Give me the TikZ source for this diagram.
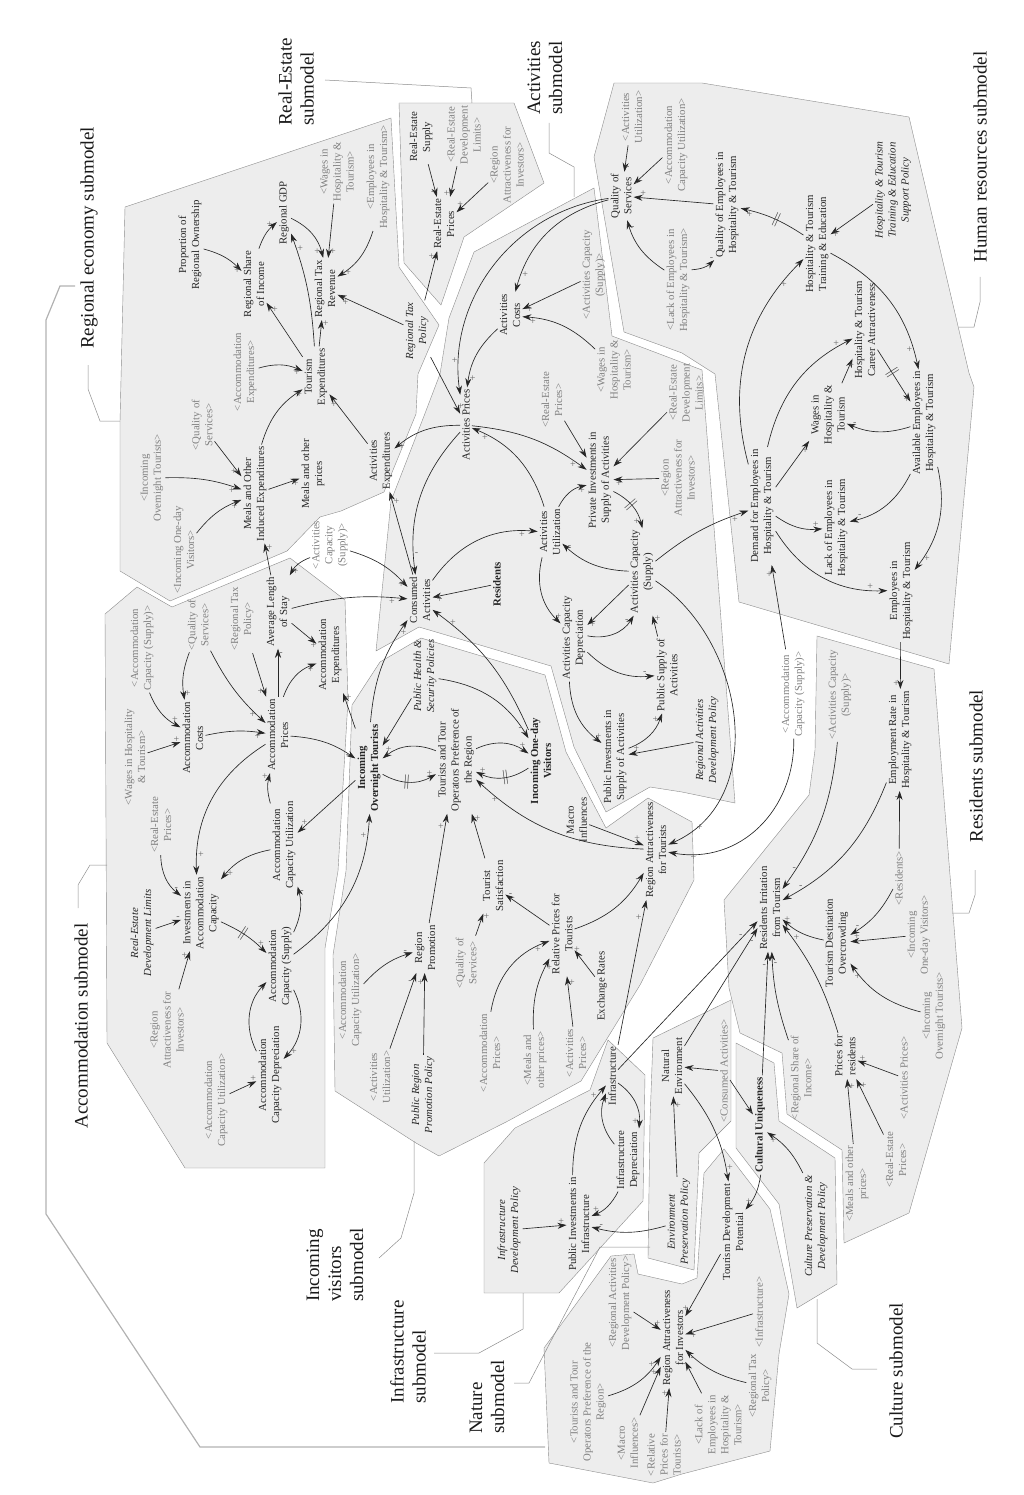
\documentclass[tikz,border=0pt]{standalone}
\usepackage{fontspec}
\setmainfont{Liberation Serif}
\usetikzlibrary{arrows.meta}

\tikzset{
  var/.style={font=\fontsize{10.8}{13}\selectfont, align=center, rotate=90, inner sep=2pt, text=black!85},
  bvar/.style={var, font=\fontsize{10.8}{13}\selectfont\bfseries},
  pvar/.style={var, font=\fontsize{10.8}{13}\selectfont\itshape},
  svar/.style={var, text=black!50},
  subm/.style={font=\fontsize{19}{22}\selectfont, align=left, rotate=90, inner sep=0pt, text=black!90},
  arr/.style={-{Stealth[length=9pt,width=6pt]}, draw=black!85, line width=0.65pt},
  pol/.style={font=\fontsize{10}{10}\selectfont, text=black!60, inner sep=1pt, pos=.88},
  dly/.style={sloped, pos=.45, inner sep=0pt, font=\fontsize{15}{15}\selectfont, text=black!80},
  zone/.style={fill=black!7, draw=black!45, line width=0.4pt},
  leadline/.style={draw=black!45, line width=0.5pt},
  bigframe/.style={draw=black!30, line width=1.2pt},
}

\begin{document}
\begin{tikzpicture}[x=1pt,y=1pt]
\useasboundingbox (0,0) rectangle (1023,-1495);

% submodel zones
\filldraw[zone] (125,-207) -- (391,-118) -- (399,-267) -- (439,-325) -- (418,-374) -- (416,-414) -- (384,-492) -- (341,-511) -- (320,-517) -- (287,-551) -- (170,-601) -- (120,-571) -- (120,-422) -- cycle; % regional economy
\filldraw[zone] (399,-103) -- (514,-103) -- (544,-183) -- (464,-237) -- (441,-305) -- (404,-263) -- cycle; % real-estate
\filldraw[zone] (474,-252) -- (594,-188) -- (612,-336) -- (702,-370) -- (735,-803) -- (682,-792) -- (650,-787) -- (606,-812) -- (574,-747) -- (551,-666) -- (419,-627) -- (376,-651) -- (391,-501) -- (424,-416) -- (440,-374) -- (449,-318) -- cycle; % activities
\filldraw[zone] (614,-83) -- (702,-83) -- (909,-117) -- (969,-373) -- (974,-387) -- (949,-664) -- (739,-602) -- (715,-374) -- (682,-353) -- (624,-332) -- (594,-157) -- cycle; % human resources
\filldraw[zone] (817,-636) -- (934,-669) -- (940,-748) -- (962,-1028) -- (909,-1213) -- (844,-1243) -- (842,-1150) -- (787,-1114) -- (782,-1053) -- (740,-1033) -- (729,-988) -- (724,-900) -- (809,-795) -- (815,-750) -- cycle; % residents
\filldraw[zone] (105,-614) -- (137,-587) -- (172,-607) -- (290,-558) -- (345,-600) -- (348,-700) -- (338,-871) -- (325,-948) -- (325,-1168) -- (185,-1168) -- (107,-1043) -- cycle; % accommodation
\filldraw[zone] (352,-705) -- (380,-662) -- (421,-638) -- (545,-675) -- (566,-752) -- (606,-828) -- (648,-798) -- (692,-822) -- (694,-880) -- (640,-985) -- (581,-1081) -- (508,-1121) -- (439,-1156) -- (416,-1143) -- (335,-1091) -- (333,-955) -- (346,-871) -- cycle; % incoming visitors
\filldraw[zone] (484,-1163) -- (484,-1293) -- (559,-1293) -- (643,-1201) -- (645,-1075) -- (608,-1040) -- (590,-1090) -- (515,-1128) -- cycle; % infrastructure
\filldraw[zone] (653,-1038) -- (731,-1000) -- (731,-1121) -- (699,-1153) -- (694,-1270) -- (648,-1258) -- (650,-1121) -- cycle; % nature
\filldraw[zone] (736,-1043) -- (774,-1063) -- (779,-1121) -- (835,-1158) -- (837,-1284) -- (797,-1308) -- (779,-1204) -- (736,-1148) -- cycle; % culture
\filldraw[zone] (611,-1256) -- (634,-1254) -- (638,-1274) -- (682,-1284) -- (697,-1278) -- (704,-1173) -- (724,-1149) -- (770,-1209) -- (789,-1294) -- (779,-1354) -- (770,-1451) -- (682,-1474) -- (653,-1483) -- (549,-1463) -- (544,-1348) -- cycle; % investors

% frame and leaders
\draw[bigframe] (75,-286) -- (60,-286) -- (46,-320) -- (46,-1214) -- (200,-1447) -- (545,-1447);
\draw[leadline] (88,-365) -- (88,-389) -- (100,-421) -- (120,-421);
\draw[leadline] (325,-80) -- (471,-88) -- (472,-103);
\draw[leadline] (549,-123) -- (549,-153) -- (574,-167) -- (574,-197);
\draw[leadline] (980,-277) -- (980,-302) -- (974,-327) -- (959,-327);
\draw[leadline] (975,-870) -- (975,-895) -- (969,-913) -- (952,-913);
\draw[leadline] (877,-1369) -- (852,-1369) -- (817,-1343) -- (817,-1299);
\draw[leadline] (379,-1258) -- (401,-1238) -- (414,-1193) -- (414,-1141);
\draw[leadline] (434,-1353) -- (479,-1353) -- (523,-1329) -- (523,-1293);
\draw[leadline] (514,-1383) -- (529,-1383) -- (600,-1247) -- (650,-1247);
\draw[leadline] (107,-865) -- (90,-865) -- (78,-885) -- (78,-908);

% submodel names
\node[subm] (treg) at (89,-238) {Regional economy submodel};
\node[subm] (trest) at (296,-82) {Real-Estate\\submodel};
\node[subm] (tact) at (545,-78) {Activities\\submodel};
\node[subm] (thr) at (980,-157) {Human resources submodel};
\node[subm] (tacc) at (81,-1026) {Accommodation submodel};
\node[subm] (tres) at (976,-766) {Residents submodel};
\node[subm] (tinc) at (335,-1265) {Incoming\\visitors\\submodel};
\node[subm] (tinf) at (408,-1352) {Infrastructure\\submodel};
\node[subm] (tnat) at (487,-1397) {Nature\\submodel};
\node[subm] (tcul) at (896,-1371) {Culture submodel};

% regional economy
\node[var] (prop) at (190,-245) {Proportion of\\Regional Ownership};
\node[var] (rshare) at (254,-284) {Regional Share\\of Income};
\node[var] (rgdp) at (284,-213) {Regional GDP};
\node[var] (rtax) at (325,-289) {Regional Tax\\Revenue};
\node[svar] (wages1) at (337,-172) {<Wages in\\Hospitality \&\\Tourism>};
\node[svar] (empl1) at (378,-177) {<Employees in\\Hospitality \& Tourism>};
\node[svar] (accexp1) at (245,-372) {<Accommodation\\Expenditures>};
\node[var] (texp) at (316,-377) {Tourism\\Expenditures};
\node[pvar] (rtaxpol) at (417,-331) {Regional Tax\\Policy};
\node[svar] (inov1) at (152,-478) {<Incoming\\Overnight Tourists>};
\node[svar] (inod1) at (184,-550) {<Incoming One-day\\Visitors>};
\node[svar] (qos1) at (202,-425) {<Quality of\\Services>};
\node[var] (meals) at (255,-494) {Meals and Other\\Induced Expenditures};
\node[var] (mprice) at (313,-474) {Meals and other\\prices};
\node[var] (actexp) at (381,-461) {Activities\\Expenditures};

% real-estate
\node[var] (resupply) at (421,-137) {Real-Estate\\Supply};
\node[svar] (redevlim1) at (464,-135) {<Real-Estate\\Development\\Limits>};
\node[svar] (rainv1) at (507,-165) {<Region\\Attractiveness for\\Investors>};
\node[var] (reprice) at (444,-224) {Real-Estate\\Prices};

% activities
\node[var] (actcost) at (510,-315) {Activities\\Costs};
\node[svar] (actcap1) at (594,-275) {<Activities Capacity\\(Supply)>};
\node[svar] (wages2) at (614,-370) {<Wages in\\Hospitality \&\\Tourism>};
\node[var] (actprice) at (466,-425) {Activities Prices};
\node[svar] (reprice2) at (552,-400) {<Real-Estate\\Prices>};
\node[svar] (redevlim2) at (686,-393) {<Real-Estate\\Development\\Limits>};
\node[svar] (rainv2) at (678,-478) {<Region\\Attractiveness for\\Investors>};
\node[var] (pinvact) at (600,-480) {Private Investments in\\Supply of Activities};
\node[var] (actutil) at (550,-532) {Activities\\Utilization};
\node[var] (consact) at (420,-600) {Consumed\\Activities};
\node[bvar] (resid) at (497,-584) {Residents};
\node[var] (actcap) at (642,-572) {Activities Capacity\\(Supply)};
\node[var] (actdep) at (574,-638) {Activities Capacity\\Depreciation};
\node[var] (pubsup) at (667,-675) {Public Supply of\\Activities};
\node[var] (pubinvact) at (615,-757) {Public Investments in\\Supply of Activities};
\node[pvar] (radpol) at (707,-740) {Regional Activities\\Development Policy};

% human resources
\node[var] (qosv) at (621,-196) {Quality of\\Services};
\node[svar] (actutil2) at (632,-117) {<Activities\\Utilization>};
\node[svar] (accutil1) at (676,-145) {<Accommodation\\Capacity Utilization>};
\node[svar] (lack1) at (678,-280) {<Lack of Employees in\\Hospitality \& Tourism>};
\node[var] (qemp) at (727,-205) {Quality of Employees in\\Hospitality \& Tourism};
\node[var] (train) at (817,-244) {Hospitality \& Tourism\\Training \& Education};
\node[pvar] (trpol) at (893,-190) {Hospitality \& Tourism\\Training \& Education\\Support Policy};
\node[var] (career) at (865,-330) {Hospitality \& Tourism\\Career Attractiveness};
\node[var] (wagesv) at (828,-415) {Wages in\\Hospitality \&\\Tourism};
\node[var] (avail) at (924,-423) {Available Employees in\\Hospitality \& Tourism};
\node[var] (demand) at (762,-506) {Demand for Employees in\\Hospitality \& Tourism};
\node[var] (lack) at (836,-528) {Lack of Employees in\\Hospitality \& Tourism};
\node[var] (emp) at (901,-591) {Employees in\\Hospitality \& Tourism};

% accommodation
\node[svar] (wages3) at (135,-757) {<Wages in Hospitality\\\& Tourism>};
\node[svar] (acccap1) at (142,-648) {<Accommodation\\Capacity (Supply)>};
\node[svar] (qos2) at (198,-625) {<Quality of\\Services>};
\node[svar] (rtaxpol2) at (242,-619) {<Regional Tax\\Policy>};
\node[var] (avgstay) at (278,-612) {Average Length\\of Stay};
\node[svar] (actcap2) at (330,-545) {<Activities\\Capacity\\(Supply)>};
\node[var] (accexp) at (330,-655) {Accommodation\\Expenditures};
\node[var] (acccost) at (193,-738) {Accommodation\\Costs};
\node[var] (accprice) at (278,-735) {Accommodation\\Prices};
\node[svar] (reprice3) at (161,-825) {<Real-Estate\\Prices>};
\node[pvar] (redevpol) at (142,-933) {Real-Estate\\Development Limits};
\node[var] (accinv) at (201,-913) {Investments in\\Accommodation\\Capacity};
\node[svar] (rainv3) at (167,-1030) {<Region\\Attractiveness for\\Investors>};
\node[var] (accutil) at (284,-845) {Accommodation\\Capacity Utilization};
\node[var] (acccap) at (280,-966) {Accommodation\\Capacity (Supply)};
\node[var] (accdep) at (270,-1075) {Accommodation\\Capacity Depreciation};
\node[svar] (accutil2) at (216,-1100) {<Accommodation\\Capacity Utilization>};

% incoming visitors
\node[bvar] (inov) at (369,-768) {Incoming\\Overnight Tourists};
\node[pvar] (pubhealth) at (425,-676) {Public Health \&\\Security Policies};
\node[var] (pref) at (456,-760) {Tourists and Tour\\Operators Preference of\\the Region};
\node[bvar] (inod) at (541,-761) {Incoming One-day\\Visitors};
\node[var] (macro) at (577,-820) {Macro\\Influences};
\node[var] (ratour) at (656,-850) {Region Attractiveness\\for Tourists};
\node[var] (tsat) at (493,-886) {Tourist\\Satisfaction};
\node[var] (rprom) at (425,-948) {Region\\Promotion};
\node[svar] (accutil3) at (350,-1000) {<Accommodation\\Capacity Utilization>};
\node[svar] (actutil3) at (380,-1077) {<Activities\\Utilization>};
\node[pvar] (prompol) at (423,-1095) {Public Region\\Promotion Policy};
\node[svar] (qos3) at (466,-963) {<Quality of\\Services>};
\node[var] (relprice) at (562,-934) {Relative Prices for\\Tourists};
\node[svar] (accprice2) at (490,-1053) {<Accommodation\\Prices>};
\node[svar] (mprice2) at (535,-1060) {<Meals and\\other prices>};
\node[svar] (actprice2) at (576,-1053) {<Activities\\Prices>};
\node[var] (exrate) at (602,-986) {Exchange Rates};

% residents
\node[svar] (acccap3) at (793,-694) {<Accommodation\\Capacity (Supply)>};
\node[svar] (actcap3) at (840,-695) {<Activities Capacity\\(Supply)>};
\node[var] (emprate) at (900,-740) {Employment Rate in\\Hospitality \& Tourism};
\node[var] (irrit) at (770,-908) {Residents Irritation\\from Tourism};
\node[var] (overcrowd) at (837,-943) {Tourism Destination\\Overcrowding};
\node[svar] (resid2) at (899,-878) {<Residents>};
\node[svar] (inod2) at (919,-935) {<Incoming\\One-day Visitors>};
\node[svar] (inov2) at (934,-1016) {<Incoming\\Overnight Tourists>};
\node[var] (presid) at (845,-1056) {Prices for\\residents};
\node[svar] (rshare2) at (801,-1078) {<Regional Share of\\Income>};
\node[svar] (actprice3) at (904,-1078) {<Activities Prices>};
\node[svar] (mprice3) at (857,-1184) {<Meals and other\\prices>};
\node[svar] (reprice4) at (896,-1160) {<Real-Estate\\Prices>};

% culture, nature, infrastructure
\node[bvar] (cultu) at (760,-1125) {Cultural Uniqueness};
\node[pvar] (culpol) at (816,-1226) {Culture Preservation \&\\Development Policy};
\node[svar] (consact2) at (724,-1071) {<Consumed Activities>};
\node[var] (natenv) at (672,-1066) {Natural\\Environment};
\node[pvar] (envpol) at (679,-1222) {Environment\\Preservation Policy};
\node[var] (infra) at (612,-1076) {Infrastructure};
\node[var] (infdep) at (628,-1160) {Infrastructure\\Depreciation};
\node[var] (pubinvinf) at (579,-1224) {Public Investments in\\Infrastructure};
\node[pvar] (infpol) at (509,-1230) {Infrastructure\\Development Policy};

% investors
\node[var] (tdp) at (733,-1232) {Tourism Development\\Potential};
\node[var] (rainv) at (673,-1338) {Region Attractiveness\\for Investors};
\node[svar] (radpol2) at (620,-1303) {<Regional Activities\\Development Policy>};
\node[svar] (pref2) at (588,-1402) {<Tourists and Tour\\Operators Preference of the\\Region>};
\node[svar] (macro2) at (628,-1443) {<Macro\\Influences>};
\node[svar] (relprice2) at (664,-1455) {<Relative\\Prices for\\Tourists>};
\node[svar] (lack2) at (718,-1425) {<Lack of\\Employees in\\Hospitality \&\\Tourism>};
\node[svar] (infra2) at (759,-1312) {<Infrastructure>};
\node[svar] (rtaxpol3) at (760,-1386) {<Regional Tax\\Policy>};

% regional economy links
\draw[arr] (prop) to[bend left=15] node[pol,below]{+} (rshare);
\draw[arr] (rshare) to[bend left=15] node[pol,left]{+} (rgdp);
\draw[arr] (rgdp) to[bend left=25] node[pol,left]{+} (rtax);
\draw[arr] (texp) to[bend right=8] node[pol,right]{+} (rgdp);
\draw[arr] (texp) -- node[pol,right]{+} (rshare);
\draw[arr] (texp) -- node[pol,right]{+} (rtax);
\draw[arr] (wages1) -- node[pol,right]{+} (rtax);
\draw[arr] (empl1) to[bend left=20] node[pol,right]{+} (rtax);
\draw[arr] (rtaxpol) -- node[pol,below]{+} (rtax);
\draw[arr] (rtaxpol) -- node[pol,left]{+} (reprice);
\draw[arr] (rtaxpol) -- node[pol,right]{+} (actprice);
\draw[arr] (accexp1) to[bend left=20] node[pol,below]{+} (texp);
\draw[arr] (meals) to[bend left=20] node[pol,right]{+} (texp);
\draw[arr] (actexp) -- node[pol,below]{+} (texp);
\draw[arr] (inov1) to[bend left=10] node[pol,below]{+} (meals);
\draw[arr] (inod1) to[bend left=15] node[pol,below]{+} (meals);
\draw[arr] (qos1) -- node[pol,left]{+} (meals);
\draw[arr] (meals) -- node[pol,below]{+} (mprice);
\draw[arr] (avgstay) -- node[pol,right]{+} (meals);

% real-estate links
\draw[arr] (resupply) -- node[pol,left]{-} (reprice);
\draw[arr] (redevlim1) -- node[pol,left]{+} (reprice);
\draw[arr] (rainv1) -- node[pol,above]{+} (reprice);

% activities links
\draw[arr] (actcost) to[bend right=20] node[pol,right]{+} (actprice);
\draw[arr] (qosv) to[bend right=45] node[pol,left]{+} (actprice);
\draw[arr] (qosv) to[bend right=30] node[pol,right]{+} (actcost);
\draw[arr] (actcap1) -- node[pol,below]{+} (actcost);
\draw[arr] (wages2) to[bend right=20] node[pol,below]{+} (actcost);
\draw[arr] (actprice) to[bend right=20] node[pol,below]{+} (actexp);
\draw[arr] (consact) -- node[pol,right]{+} (actexp);
\draw[arr] (reprice2) -- node[pol,left]{-} (pinvact);
\draw[arr] (redevlim2) -- node[pol,below]{-} (pinvact);
\draw[arr] (rainv2) -- node[pol,below]{+} (pinvact);
\draw[arr] (actprice) to[bend left=15] node[pol,below]{+} (pinvact);
\draw[arr] (actutil) to[bend left=25] node[pol,below]{+} (pinvact);
\draw[arr] (actutil) to[bend right=25] node[pol,below]{+} (actprice);
\draw[arr] (consact) to[bend left=30] node[pol,below]{+} (actutil);
\draw[arr] (actprice) to[bend right=25] node[pol,right]{-} (consact);
\draw[arr] (actcap2) to[bend left=15] node[pol,below]{+} (consact);
\draw[arr] (avgstay) to[bend left=10] node[pol,below]{+} (consact);
\draw[arr] (inov) to[bend left=15] node[pol,right]{+} (consact);
\draw[arr] (resid) -- node[pol,below]{+} (consact);
\draw[arr] (inod) to[bend right=15] node[pol,right]{+} (consact);
\draw[arr] (pubhealth) to[bend left=25] node[pol,below]{-} (inod);
\draw[arr] (pubhealth) -- node[pol,below]{-} (inov);
\draw[arr] (actutil) to[bend right=30] node[pol,right]{+} (actdep);
\draw[arr] (actcap) to[bend left=20] node[pol,above]{-} (actutil);
\draw[arr] (actcap) -- node[pol,below]{+} (actdep);
\draw[arr] (actdep) to[bend right=35] node[pol,left]{-} (actcap);
\draw[arr] (actdep) to[bend right=25] node[pol,above]{-} (pubsup);
\draw[arr] (actdep) to[bend right=25] node[pol,right]{+} (pubinvact);
\draw[arr] (pubinvact) to[bend right=25] node[pol,left]{+} (pubsup);
\draw[arr] (pubsup) -- node[pol,right]{+} (actcap);
\draw[arr] (pinvact) to[bend left=25] node[dly]{$\|$} node[pol,left]{+} (actcap);
\draw[arr] (radpol) -- node[pol,above]{+} (pubinvact);
\draw[arr] (actcap) to[bend left=10] node[pol,below]{+} (demand);
\draw[arr] (actcap) .. controls (745,-640) and (770,-800) .. node[pol,below]{+} (ratour);

% human resources links
\draw[arr] (qemp) -- node[pol,above]{+} (qosv);
\draw[arr] (actutil2) -- node[pol,right]{-} (qosv);
\draw[arr] (accutil1) -- node[pol,below]{-} (qosv);
\draw[arr] (lack1) to[bend left=20] node[pol,right]{-} (qosv);
\draw[arr] (lack1) to[bend right=20] node[pol,above]{-} (qemp);
\draw[arr] (train) to[bend right=10] node[dly]{$\|$} node[pol,below]{+} (qemp);
\draw[arr] (trpol) -- node[pol,below]{+} (train);
\draw[arr] (demand) to[bend left=30] node[pol,below]{+} (train);
\draw[arr] (train) to[bend left=25] node[pol,left]{+} (avail);
\draw[arr] (career) -- node[dly]{$\|$} node[pol,below]{+} (avail);
\draw[arr] (wagesv) -- node[pol,below]{+} (career);
\draw[arr] (demand) to[bend left=25] node[pol,above]{+} (career);
\draw[arr] (demand) -- node[pol,below]{+} (wagesv);
\draw[arr] (avail) to[bend left=20] node[pol,above]{-} (wagesv);
\draw[arr] (demand) to[bend right=20] node[pol,above]{+} (lack);
\draw[arr] (avail) to[bend left=25] node[pol,above]{-} (lack);
\draw[arr] (demand) to[bend right=30] node[pol,above]{+} (emp);
\draw[arr] (avail) to[bend left=25] node[pol,right]{+} (emp);
\draw[arr] (emp) -- node[pol,left]{+} (emprate);
\draw[arr] (acccap3) -- node[pol,left]{+} (demand);

% accommodation links
\draw[arr] (acccap1) to[bend right=20] node[pol,above]{+} (acccost);
\draw[arr] (qos2) to[bend right=15] node[pol,right]{+} (acccost);
\draw[arr] (qos2) to[bend right=10] node[pol,left]{+} (accprice);
\draw[arr] (rtaxpol2) -- node[pol,left]{+} (accprice);
\draw[arr] (acccost) to[bend left=10] node[pol,below]{+} (accprice);
\draw[arr] (wages3) -- node[pol,above]{+} (acccost);
\draw[arr] (accprice) to[bend left=25] node[pol,below]{+} (accexp);
\draw[arr] (avgstay) -- node[pol,below]{+} (accexp);
\draw[arr] (accprice) -- node[pol,right]{-} (avgstay);
\draw[arr] (actcap2) to[bend right=20] node[pol,right]{+} (avgstay);
\draw[arr] (accprice) to[bend left=15] node[pol,below]{-} (inov);
\draw[arr] (inov) -- node[pol,right]{+} (accexp);
\draw[arr] (accprice) to[bend right=30] node[pol,right]{+} (accinv);
\draw[arr] (accutil) to[bend right=20] node[pol,right]{+} (accinv);
\draw[arr] (accutil) to[bend left=15] node[pol,left]{+} (accprice);
\draw[arr] (inov) -- node[pol,above]{+} (accutil);
\draw[arr] (reprice3) to[bend right=25] node[pol,above]{-} (accinv);
\draw[arr] (redevpol) -- node[pol,above]{-} (accinv);
\draw[arr] (rainv3) -- node[pol,left]{+} (accinv);
\draw[arr] (accinv) to[bend left=10] node[dly]{$\|$} node[pol,above]{+} (acccap);
\draw[arr] (acccap) to[bend right=20] node[pol,right]{-} (accutil);
\draw[arr] (acccap) to[bend right=25] node[pol,left]{+} (inov);
\draw[arr] (acccap) to[bend left=35] node[pol,right]{+} (accdep);
\draw[arr] (accdep) to[bend left=35] node[pol,right]{-} (acccap);
\draw[arr] (accutil2) -- node[pol,above]{+} (accdep);

% incoming visitors links
\draw[arr] (inov) to[bend right=30] node[dly]{$\|$} node[pol,above]{+} (pref);
\draw[arr] (inod) to[bend left=30] node[dly]{$\|$} node[pol,above]{+} (pref);
\draw[arr] (pref) to[bend right=30] node[pol,above]{+} (inov);
\draw[arr] (pref) to[bend left=30] node[pol,above]{+} (inod);
\draw[arr] (rprom) -- node[pol,left]{+} (pref);
\draw[arr] (tsat) -- node[pol,right]{+} (pref);
\draw[arr] (ratour) to[bend left=20] node[pol,below]{+} (pref);
\draw[arr] (accutil3) to[bend left=15] node[pol,above]{-} (rprom);
\draw[arr] (actutil3) -- node[pol,left]{-} (rprom);
\draw[arr] (prompol) -- node[pol,left]{+} (rprom);
\draw[arr] (qos3) -- node[pol,right]{+} (tsat);
\draw[arr] (relprice) -- node[pol,above]{-} (tsat);
\draw[arr] (relprice) to[bend right=20] node[pol,above]{-} (ratour);
\draw[arr] (accprice2) to[bend left=30] node[pol,below]{+} (relprice);
\draw[arr] (mprice2) to[bend left=15] node[pol,right]{+} (relprice);
\draw[arr] (actprice2) -- node[pol,right]{+} (relprice);
\draw[arr] (exrate) -- node[pol,above]{+} (relprice);
\draw[arr] (macro) -- node[pol,above]{+} (ratour);
\draw[arr] (infra) -- node[pol,left]{+} (ratour);
\draw[arr] (acccap3) .. controls (795,-810) and (740,-865) .. node[pol,below]{+} (ratour);

% residents links
\draw[arr] (actcap3) to[bend left=15] node[pol,above]{-} (irrit);
\draw[arr] (emprate) to[bend left=20] node[pol,above]{-} (irrit);
\draw[arr] (resid2) -- node[pol,left]{-} (emprate);
\draw[arr] (resid2) to[bend left=15] node[pol,above]{-} (overcrowd);
\draw[arr] (inod2) -- node[pol,above]{+} (overcrowd);
\draw[arr] (inov2) to[bend left=20] node[pol,below]{+} (overcrowd);
\draw[arr] (overcrowd) to[bend left=15] node[pol,above]{+} (irrit);
\draw[arr] (presid) to[bend right=10] node[pol,right]{+} (irrit);
\draw[arr] (rshare2) to[bend left=8] node[pol,right]{-} (irrit);
\draw[arr] (cultu) -- node[pol,left]{-} (irrit);
\draw[arr] (infra) -- node[pol,above]{-} (irrit);
\draw[arr] (natenv) -- node[pol,right]{-} (irrit);
\draw[arr] (actprice3) -- node[pol,above]{+} (presid);
\draw[arr] (mprice3) -- node[pol,right]{+} (presid);
\draw[arr] (reprice4) -- node[pol,right]{+} (presid);

% culture, nature, infrastructure links
\draw[arr] (culpol) to[bend right=15] node[pol,below]{+} (cultu);
\draw[arr] (cultu) to[bend left=15] node[pol,above]{+} (tdp);
\draw[arr] (natenv) to[bend left=15] node[pol,right]{+} (tdp);
\draw[arr] (consact2) -- node[pol,below]{-} (natenv);
\draw[arr] (consact2) -- node[pol,below]{-} (cultu);
\draw[arr] (envpol) -- node[pol,right]{+} (natenv);
\draw[arr] (envpol) to[bend left=15] node[pol,above]{-} (pubinvinf);
\draw[arr] (infpol) -- node[pol,above]{+} (pubinvinf);
\draw[arr] (infdep) to[bend left=20] node[pol,above]{+} (pubinvinf);
\draw[arr] (pubinvinf) to[bend left=20] node[pol,left]{+} (infra);
\draw[arr] (infra) to[bend left=30] node[pol,left]{+} (infdep);
\draw[arr] (infdep) to[bend left=30] node[pol,right]{-} (infra);

% investors links
\draw[arr] (tdp) -- node[pol,left]{+} (rainv);
\draw[arr] (infra2) -- node[pol,below]{+} (rainv);
\draw[arr] (rtaxpol3) to[bend left=15] node[pol,below]{-} (rainv);
\draw[arr] (lack2) -- node[pol,left]{-} (rainv);
\draw[arr] (radpol2) -- node[pol,above]{+} (rainv);
\draw[arr] (pref2) to[bend right=20] node[pol,left]{+} (rainv);
\draw[arr] (macro2) -- node[pol,left]{+} (rainv);
\draw[arr] (relprice2) -- node[pol,left]{+} (rainv);
\end{tikzpicture}
\end{document}
